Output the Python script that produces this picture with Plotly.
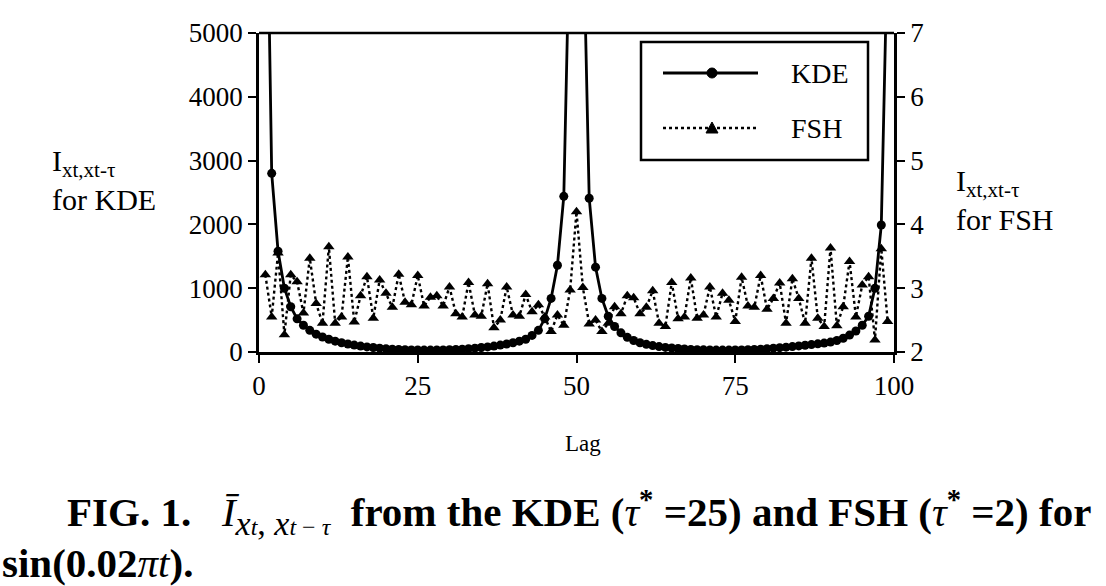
import plotly.graph_objects as go

lags = list(range(1, 100))

kde = [9000, 2800, 1580, 1000, 710, 520, 420, 340, 280, 235,
       200, 170, 145, 125, 108, 93, 80, 70, 60, 52,
       45, 40, 36, 33, 31, 30, 30, 31, 33, 36,
       40, 45, 52, 60, 70, 80, 93, 108, 125, 145,
       170, 200, 260, 340, 520, 840, 1360, 2440, 7000, 20000,
       7000, 2410, 1330, 840, 560, 400, 300, 230, 180, 145,
       120, 100, 85, 72, 62, 54, 47, 41, 37, 34,
       32, 30, 30, 30, 31, 33, 36, 40, 45, 52,
       60, 68, 76, 85, 95, 105, 116, 128, 140, 155,
       180, 215, 265, 330, 420, 560, 1000, 1990, 6500]

fsh = [3.21, 2.55, 3.55, 2.27, 3.21, 3.10, 2.61, 3.47, 2.76, 2.45,
       3.65, 2.45, 2.55, 3.49, 2.47, 2.88, 3.18, 2.53, 3.13, 2.92,
       2.70, 3.22, 2.78, 2.74, 3.20, 2.72, 2.86, 2.88, 2.72, 3.02,
       2.60, 2.55, 3.09, 2.58, 2.56, 3.07, 2.38, 2.50, 3.02, 2.58,
       2.56, 2.90, 2.63, 2.74, 2.55, 2.32, 2.58, 2.42, 2.97, 4.20,
       3.01, 2.44, 2.50, 2.32, 2.45, 2.71, 2.60, 2.88, 2.85, 2.60,
       2.70, 2.96, 2.45, 2.40, 3.09, 2.52, 2.55, 3.16, 2.53, 2.58,
       3.02, 2.55, 2.92, 2.81, 2.48, 3.17, 2.72, 2.70, 3.20, 2.67,
       2.84, 3.08, 2.45, 3.15, 2.84, 2.45, 3.47, 2.53, 2.40, 3.63,
       2.41, 2.71, 3.42, 2.55, 3.05, 3.18, 2.19, 3.62, 2.48]

x_ticks = [0, 25, 50, 75, 100]
left_ticks = [0, 1000, 2000, 3000, 4000, 5000]
right_ticks = [2, 3, 4, 5, 6, 7]

SERIF = "Liberation Serif"
W, H = 1106, 586
L, R, T, B = 259, 212, 33, 234
PW, PH = W - L - R, H - T - B


def px(xp):
    return (xp - L) / PW


def py(yp):
    return (H - B - yp) / PH


fig = go.Figure()
fig.add_trace(go.Scatter(
    x=lags, y=kde, name="KDE", mode="lines+markers",
    line=dict(color="black", width=2.8),
    marker=dict(symbol="circle", size=9, color="black"),
    yaxis="y", showlegend=False))
fig.add_trace(go.Scatter(
    x=lags, y=fsh, name="FSH", mode="lines+markers",
    line=dict(color="black", width=2.4, dash="dot"),
    marker=dict(symbol="triangle-up", size=10, color="black"),
    yaxis="y2", showlegend=False))

axis_common = dict(showline=True, linecolor="black", linewidth=2.5,
                   ticks="outside", tickcolor="black", ticklen=8, tickwidth=2,
                   showgrid=False, zeroline=False,
                   tickfont=dict(family=SERIF, size=27, color="black"))

fig.update_layout(
    width=W, height=H,
    margin=dict(l=L, r=R, t=T, b=B),
    paper_bgcolor="white", plot_bgcolor="white",
    xaxis=dict(range=[0, 100], tickvals=x_ticks, **axis_common),
    yaxis=dict(range=[0, 5000], tickvals=left_ticks, **axis_common),
    yaxis2=dict(range=[2, 7], tickvals=right_ticks, overlaying="y", side="right",
                **axis_common),
    showlegend=False,
)

# top border of the frame
fig.add_shape(type="line", xref="paper", yref="paper", x0=0, x1=1, y0=1, y1=1,
              line=dict(color="black", width=2.5))

# axis titles
title_font = dict(family=SERIF, size=30, color="black")
fig.add_annotation(xref="paper", yref="paper", x=px(50), y=py(180),
                   xanchor="left", yanchor="middle", align="left", showarrow=False,
                   text="I<sub>xt,xt-τ</sub><br>for KDE", font=title_font)
fig.add_annotation(xref="paper", yref="paper", x=px(954), y=py(200),
                   xanchor="left", yanchor="middle", align="left", showarrow=False,
                   text="I<sub>xt,xt-τ</sub><br>for FSH", font=title_font)
fig.add_annotation(xref="paper", yref="paper", x=px(583), y=py(443),
                   xanchor="center", yanchor="middle", showarrow=False,
                   text="Lag", font=dict(family=SERIF, size=23, color="black"))

# legend box (drawn)
fig.add_shape(type="rect", xref="paper", yref="paper",
              x0=px(641), x1=px(868), y0=py(160), y1=py(42),
              line=dict(color="black", width=2.5), fillcolor="white", layer="above")
fig.add_shape(type="line", xref="paper", yref="paper",
              x0=px(663), x1=px(758), y0=py(73), y1=py(73),
              line=dict(color="black", width=2.8), layer="above")
fig.add_shape(type="circle", xref="paper", yref="paper",
              xsizemode="pixel", ysizemode="pixel",
              xanchor=px(712), yanchor=py(73), x0=-5, x1=5, y0=-5, y1=5,
              fillcolor="black", line=dict(color="black", width=1), layer="above")
fig.add_shape(type="line", xref="paper", yref="paper",
              x0=px(663), x1=px(758), y0=py(128), y1=py(128),
              line=dict(color="black", width=2.4, dash="dot"), layer="above")
fig.add_shape(type="path", xref="paper", yref="paper",
              xsizemode="pixel", ysizemode="pixel",
              xanchor=px(712), yanchor=py(128), path="M -6 -5 L 6 -5 L 0 6 Z",
              fillcolor="black", line=dict(color="black", width=1), layer="above")
fig.add_annotation(xref="paper", yref="paper", x=px(789), y=py(73),
                   xanchor="left", yanchor="middle", showarrow=False, text="KDE",
                   font=dict(family=SERIF, size=28, color="black"))
fig.add_annotation(xref="paper", yref="paper", x=px(789), y=py(128),
                   xanchor="left", yanchor="middle", showarrow=False, text="FSH",
                   font=dict(family=SERIF, size=28, color="black"))

# caption
cap_font = dict(family=SERIF, size=41, color="black")
small = '<span style="font-size:24px">'
math_sub = ('<sub><span style="font-size:34px"><i>x</i>' + small + '<i>t</i></span>'
            ', <i>x</i>' + small + '<i>t</i> − <i>τ</i></span></span></sub>')
fig.add_annotation(xref="paper", yref="paper", x=px(65), y=py(512),
                   xanchor="left", yanchor="middle", showarrow=False,
                   text="<b>FIG. 1.</b>   <i>Ī</i>" + math_sub +
                        "  <b>from the KDE (</b><i>τ</i><sup><b>*</b></sup><b> =25) and FSH (</b>"
                        "<i>τ</i><sup><b>*</b></sup><b> =2) for</b>",
                   font=cap_font)
fig.add_annotation(xref="paper", yref="paper", x=px(0), y=py(563),
                   xanchor="left", yanchor="middle", showarrow=False,
                   text="<b>sin(0.02</b><i>πt</i><b>).</b>", font=cap_font)

fig.write_html("out.html")
